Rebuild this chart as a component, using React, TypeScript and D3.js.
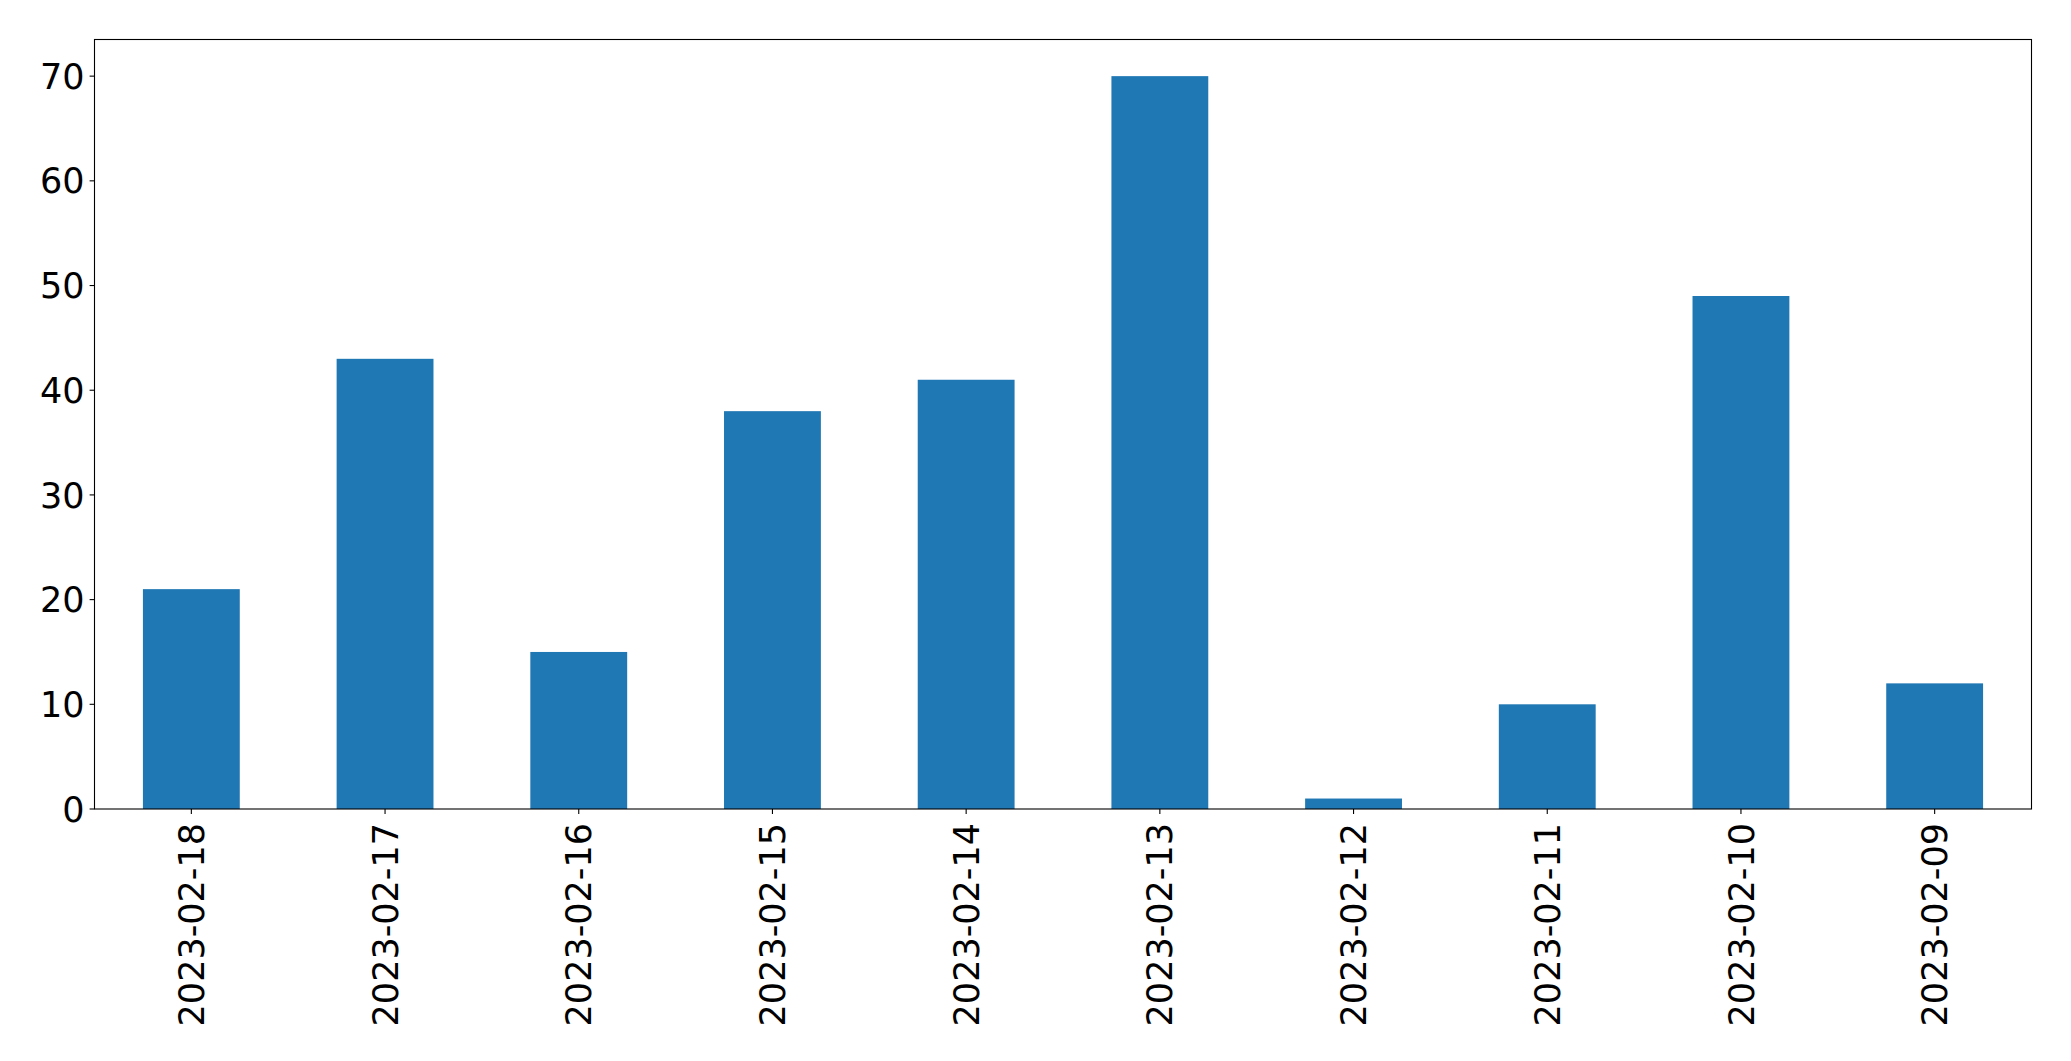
import React from "react";
import * as d3 from "d3";

const categories = ["2023-02-18","2023-02-17","2023-02-16","2023-02-15","2023-02-14","2023-02-13","2023-02-12","2023-02-11","2023-02-10","2023-02-09"];
const values = [21, 43, 15, 38, 41, 70, 1, 10, 49, 12];
const yTicks = [0, 10, 20, 30, 40, 50, 60, 70];

const W = 2071, H = 1061;
const left = 94.5, right = 2031.5, top = 39.5, bottom = 809;
const FONT = "'DejaVu Sans', sans-serif";
const FS = 35;

export default function App() {
  const x = d3.scaleLinear().domain([-0.5, categories.length - 0.5]).range([left, right]);
  const y = d3.scaleLinear().domain([0, d3.max(values)! * 1.05]).range([bottom, top]);
  const bw = x(0.25) - x(-0.25);
  return (
    <svg width={W} height={H} style={{ position: "absolute", left: 0, top: 0, background: "#fff" }}>
      <rect x={0} y={0} width={W} height={H} fill="#fff" />
      {values.map((v, i) => (
        <rect key={i} x={x(i) - bw / 2} y={y(v)} width={bw} height={y(0) - y(v)} fill="#1f77b4" />
      ))}
      <rect x={left} y={top} width={right - left} height={bottom - top} fill="none" stroke="#000" strokeWidth={1.1} />
      {yTicks.map((t) => (
        <g key={t}>
          <line x1={left - 4.9} x2={left} y1={y(t)} y2={y(t)} stroke="#000" strokeWidth={1.1} />
          <text x={left - 10} y={y(t)} dy="0.36em" textAnchor="end" fontFamily={FONT} fontSize={FS} fill="#000">{t}</text>
        </g>
      ))}
      {categories.map((c, i) => (
        <g key={c}>
          <line x1={x(i)} x2={x(i)} y1={bottom} y2={bottom + 4.9} stroke="#000" strokeWidth={1.1} />
          <text transform={`translate(${x(i)},${bottom + 14}) rotate(-90)`} dy="0.36em" textAnchor="end" fontFamily={FONT} fontSize={FS} fill="#000">{c}</text>
        </g>
      ))}
    </svg>
  );
}
